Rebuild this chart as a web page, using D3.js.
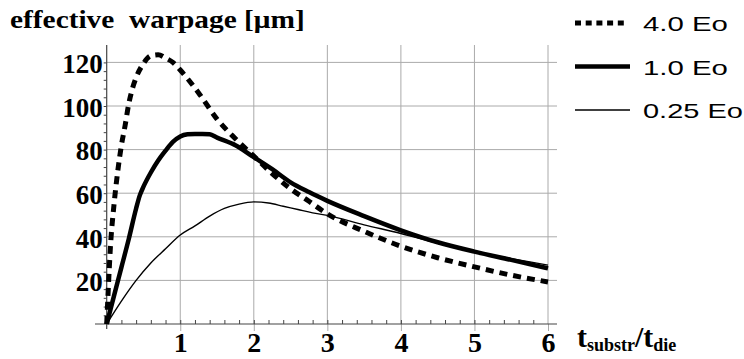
<!DOCTYPE html>
<html>
<head>
<meta charset="utf-8">
<script src="https://cdn.jsdelivr.net/npm/d3@7"></script>
<style>
  body { margin: 0; background: #fff; }
  .serif { font-family: "Liberation Serif", "Times New Roman", serif; font-weight: bold; }
  .sans { font-family: "Liberation Sans", Arial, sans-serif; }
</style>
</head>
<body>
<div id="plot"></div>
<script>
// data
const x40 = [0, 0.02, 0.05, 0.1, 0.15, 0.2, 0.25, 0.3, 0.35, 0.4, 0.5, 0.6, 0.7, 0.8, 0.9, 1.0, 1.25, 1.5, 1.75, 2, 2.25, 2.5, 2.75, 3, 3.5, 4, 4.5, 5, 5.5, 6];
const y40 = [0, 15, 35, 55, 70, 82, 91, 101, 108, 113, 119.5, 123, 123.5, 122, 120, 116.5, 106, 94, 85, 77, 69, 62, 56.3, 50.5, 42.5, 35.7, 30.4, 26.2, 22.4, 19.3];

const x10 = [0, 0.1, 0.2, 0.3, 0.4, 0.45, 0.5, 0.6, 0.7, 0.8, 0.9, 1.0, 1.1, 1.2, 1.3, 1.4, 1.5, 1.75, 2, 2.25, 2.5, 2.75, 3, 3.5, 4, 4.5, 5, 5.5, 6];
const y10 = [0, 13, 26, 39, 53, 59, 63, 69.5, 75, 79.5, 83.5, 86, 87, 87.2, 87.2, 87, 85.5, 82, 76.5, 71, 65, 60.5, 56.5, 49.5, 43, 37.5, 33.2, 29.4, 25.5];

const x025 = [0, 0.2, 0.4, 0.6, 0.8, 1.0, 1.2, 1.4, 1.6, 1.8, 2.0, 2.2, 2.4, 2.6, 2.8, 3, 3.5, 4, 4.5, 5, 5.5, 6];
const y025 = [0, 10.5, 20, 28, 34.5, 40.8, 45, 49.5, 53, 55, 56, 55.5, 54, 52.5, 51, 49.8, 45.5, 41.5, 37, 33, 30, 27];

const xTicks = [1, 2, 3, 4, 5, 6];
const yTicks = [20, 40, 60, 80, 100, 120];
const legendLabels = ["4.0 Eo", "1.0 Eo", "0.25 Eo"];

const w = 744, h = 359;
const svg = d3.select("#plot").append("svg")
    .attr("width", w)
    .attr("height", h);

//scales
const x = d3.scaleLinear().domain([0, 6]).range([106.7, 548]);
const y = d3.scaleLinear().domain([0, 120]).range([324, 62.4]);

const gridCol = "#aaa";
const axisCol = "#444";

//stretch a text horizontally so it spans the wanted width
const stretchTo = (sel, x0, width) => {
    const natural = sel.node().getComputedTextLength();
    const k = width / natural;
    sel.attr("x", x0 / k).attr("transform", "scale(" + k + ",1)");
};

//grid lines
svg.append("g").selectAll("line")
    .data(xTicks)
    .join("line")
    .attr("x1", d => x(d)).attr("x2", d => x(d))
    .attr("y1", 45).attr("y2", y(0))
    .attr("stroke", gridCol).attr("stroke-width", 1);
svg.append("g").selectAll("line")
    .data(yTicks)
    .join("line")
    .attr("x1", x(0)).attr("x2", 557)
    .attr("y1", d => y(d)).attr("y2", d => y(d))
    .attr("stroke", gridCol).attr("stroke-width", 1);

//x axis: major ticks go down, minor go up
const xAxis = svg.append("g")
    .attr("transform", "translate(0," + y(0) + ")")
    .call(d3.axisBottom(x).tickValues(xTicks).tickSize(7).tickPadding(4).tickFormat(d3.format("d")));
xAxis.select(".domain").remove();
xAxis.selectAll(".tick line").attr("stroke", gridCol);
xAxis.selectAll("text")
    .attr("class", "serif")
    .attr("font-size", 28)
    .attr("fill", "#000")
    .attr("dy", "0.6em");

const xMinor = svg.append("g")
    .attr("transform", "translate(0," + y(0) + ")")
    .call(d3.axisTop(x).tickValues(d3.range(1, 30).map(i => i * 0.2)).tickSize(4).tickFormat(""));
xMinor.select(".domain").remove();
xMinor.selectAll(".tick line").attr("stroke", axisCol);

svg.append("line")
    .attr("x1", 95).attr("x2", 557)
    .attr("y1", y(0)).attr("y2", y(0))
    .attr("stroke", axisCol).attr("stroke-width", 1.2);

//y axis
const yAxis = svg.append("g")
    .attr("transform", "translate(" + x(0) + ",0)")
    .call(d3.axisLeft(y).tickValues(yTicks).tickSize(0).tickPadding(4).tickFormat(d3.format("d")));
yAxis.select(".domain").remove();
yAxis.selectAll("text")
    .attr("class", "serif")
    .attr("font-size", 27)
    .attr("fill", "#000")
    .attr("dy", "0.38em");

const yMinor = svg.append("g")
    .attr("transform", "translate(" + x(0) + ",0)")
    .call(d3.axisLeft(y).tickValues(d3.range(1, 31).map(i => i * 4)).tickSize(3).tickFormat(""));
yMinor.select(".domain").remove();
yMinor.selectAll(".tick line").attr("stroke", axisCol);

svg.append("line")
    .attr("x1", x(0)).attr("x2", x(0))
    .attr("y1", 45).attr("y2", 329)
    .attr("stroke", axisCol).attr("stroke-width", 1.2);

//curves
const line = d3.line()
    .x(d => x(d[0]))
    .y(d => y(d[1]))
    .curve(d3.curveMonotoneX);

const series = [
    { xs: x40, ys: y40, width: 5, dash: "8,6" },
    { xs: x10, ys: y10, width: 4.5, dash: null },
    { xs: x025, ys: y025, width: 1.4, dash: null }
];

series.forEach(s => {
    svg.append("path")
        .datum(d3.zip(s.xs, s.ys))
        .attr("d", line)
        .attr("fill", "none")
        .attr("stroke", "#000")
        .attr("stroke-width", s.width)
        .attr("stroke-dasharray", s.dash);
});

//legend
const legTextLen = [85, 85, 100];
const leg = svg.append("g").selectAll("g")
    .data(legendLabels)
    .join("g")
    .attr("transform", (_, i) => "translate(575," + (23 + i * 43.5) + ")");
leg.append("line")
    .attr("x1", 0).attr("x2", (d, i) => i == 0 ? 49 : 55)
    .attr("stroke", "#000")
    .attr("stroke-width", (d, i) => series[i].width)
    .attr("stroke-dasharray", (d, i) => i == 0 ? "6,4.7" : null);
leg.append("text")
    .attr("class", "sans")
    .attr("y", 8)
    .attr("font-size", 20)
    .attr("fill", "#000")
    .text(d => d)
    .each(function (d, i) { stretchTo(d3.select(this), 68, legTextLen[i]); });

//title
const title = svg.append("text")
    .attr("class", "serif")
    .attr("y", 28)
    .attr("font-size", 25)
    .attr("fill", "#000")
    .attr("xml:space", "preserve")
    .text("effective  warpage [μm]");
stretchTo(title, 10, 295);

//x label
const xl = svg.append("text")
    .attr("class", "serif")
    .attr("x", 577)
    .attr("y", 347)
    .attr("font-size", 30)
    .attr("fill", "#000");
xl.append("tspan").text("t");
xl.append("tspan").attr("font-size", 18).attr("dy", 4).text("substr");
xl.append("tspan").attr("dy", -4).text("/t");
xl.append("tspan").attr("font-size", 18).attr("dy", 4).text("die");
</script>
</body>
</html>
